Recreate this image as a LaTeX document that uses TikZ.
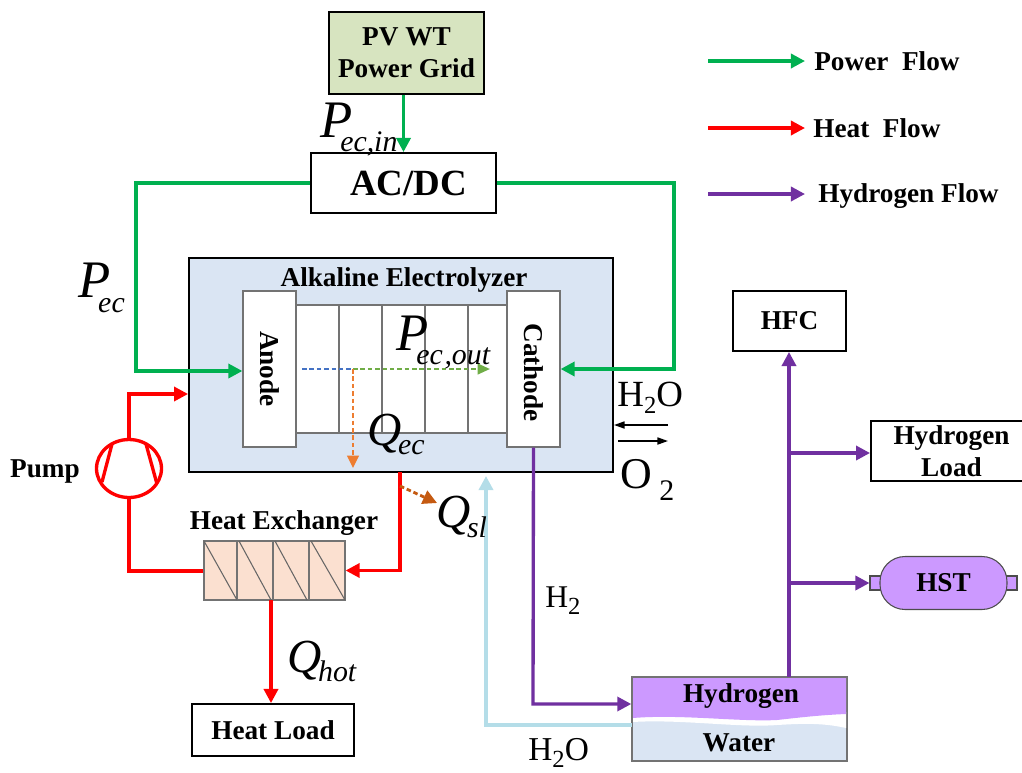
\documentclass[tikz,border=0pt]{standalone}
\usepackage{fontspec}
\setmainfont{Liberation Serif}
\usetikzlibrary{arrows.meta,shapes.geometric}
\definecolor{powergreen}{HTML}{00B050}
\definecolor{hydropurple}{HTML}{7030A0}
\definecolor{gaspurple}{HTML}{CC99FF}
\definecolor{waterblue}{HTML}{DAE5F3}
\definecolor{pipeblue}{HTML}{B4DDE8}
\definecolor{gridgreen}{HTML}{D7E4C0}
\definecolor{hxpeach}{HTML}{FBE0D0}
\definecolor{dashorange}{HTML}{ED7D31}
\definecolor{dashbrown}{HTML}{C55A11}
\definecolor{dashblue}{HTML}{4472C4}
\definecolor{dashgreen}{HTML}{70AD47}
\newcommand{\boldlab}{\fontsize{15.5}{18}\selectfont\bfseries}
\newcommand{\flowvar}[4]{{\fontsize{30}{30}\selectfont\itshape #1\kern#3\raisebox{#4}{\fontsize{17}{17}\selectfont #2}}}
\newcommand{\heatvar}[2]{{\fontsize{27}{27}\selectfont\itshape Q\kern-2pt\raisebox{#2}{\fontsize{17}{17}\selectfont #1}}}
\newcommand{\chemlab}[3]{{\fontsize{#3}{#3}\selectfont #1\raisebox{-4.5pt}{\fontsize{14}{14}\selectfont 2}#2}}
\tikzset{
  blackbox/.style={draw=black,line width=1.1pt,inner sep=0pt,align=center,font=\boldlab},
  graybox/.style={draw=black!55,line width=0.7pt,fill=white,inner sep=0pt,font=\boldlab},
  textlab/.style={inner sep=0pt,font=\boldlab},
  varlab/.style={inner sep=0pt,anchor=base west},
  flowline/.style={line width=1.9pt,-{Triangle[length=8pt,width=8pt]}},
  plainline/.style={line width=1.9pt},
  dashline/.style={line width=1.3pt,dash pattern=on 2.6pt off 1.6pt},
}
\begin{document}
\begin{tikzpicture}[x=0.02cm,y=-0.02cm]
  \useasboundingbox (0,0) rectangle (1022,772);
  % boxes
  \node[blackbox,fill=gridgreen,minimum width=3.1cm,minimum height=1.64cm] (grid) at (406.5,53) {PV WT\\Power Grid};
  \node[blackbox,minimum width=3.7cm,minimum height=1.2cm,font=\fontsize{21}{24}\selectfont\bfseries] (acdc) at (403.5,183) {\kern6pt AC/DC};
  \node[blackbox,fill=waterblue,minimum width=8.48cm,minimum height=4.28cm] (elec) at (401,365) {};
  \node[textlab] (electitle) at (404,280) {Alkaline Electrolyzer};
  \node[graybox,minimum width=4.22cm,minimum height=2.56cm] (stack) at (401.5,369) {};
  \foreach \x in {339,382,425,468}
    \draw[black!55,line width=0.7pt] (\x,305) -- (\x,433);
  \node[graybox,minimum width=1.06cm,minimum height=3.12cm] (anode) at (269.5,369) {\rotatebox{-90}{Anode}};
  \node[graybox,minimum width=1.06cm,minimum height=3.12cm] (cathode) at (533.5,369) {\rotatebox{-90}{\kern4pt Cathode}};
  \node[blackbox,minimum width=2.26cm,minimum height=1.2cm] (hfc) at (789.5,321) {HFC};
  \node[blackbox,minimum width=3.22cm,minimum height=1.2cm] (hload) at (951.5,451) {Hydrogen\\Load};
  \node[blackbox,minimum width=3.24cm,minimum height=1.04cm] (heatload) at (273,730) {Heat Load};
  % heat exchanger
  \node[graybox,fill=hxpeach,minimum width=2.82cm,minimum height=1.18cm] (hx) at (274.5,570.5) {};
  \foreach \x in {237,273,309}
    \draw[black!55,line width=0.7pt] (\x,541) -- (\x,600);
  \draw[black!60,line width=0.6pt] (204,541) -- (237,600);
  \draw[black!60,line width=0.6pt] (239,541) -- (271,600);
  \draw[black!60,line width=0.6pt] (275,541) -- (307,600);
  \draw[black!60,line width=0.6pt] (311,541) -- (345,600);
  \node[textlab] (hxtitle) at (284,523) {Heat Exchanger};
  % pump
  \node[ellipse,draw=red,line width=1.9pt,minimum width=1.3cm,minimum height=1.16cm,inner sep=0pt] (pump) at (129,468.5) {};
  \draw[plainline,red] (112,444) -- (102,482);
  \draw[plainline,red] (146,444) -- (157,484);
  \node[textlab] (pumptitle) at (45,471) {Pump};
  % tank
  \node[draw=black!55,line width=0.8pt,fill=waterblue,minimum width=4.3cm,minimum height=1.68cm,inner sep=0pt] (tank) at (739.5,719) {};
  \fill[white] (633,716) -- (846,712) -- (846,728) .. controls (820,722) and (795,724) .. (777,725) .. controls (740,728) and (680,719) .. (633,722) -- cycle;
  \fill[gaspurple] (633,678) -- (846,678) -- (846,714) .. controls (820,715) and (795,718) .. (777,720) .. controls (740,722) and (680,714) .. (633,718) -- cycle;
  \node[textlab] (hydrogen) at (741,696) {Hydrogen};
  \node[textlab] (water) at (739,743) {Water};
  % storage tank
  \node[draw=black!70,line width=0.6pt,fill=gaspurple,minimum width=0.22cm,minimum height=0.28cm,inner sep=0pt] (hstleft) at (875.5,583) {};
  \node[draw=black!70,line width=0.6pt,fill=gaspurple,minimum width=0.22cm,minimum height=0.28cm,inner sep=0pt] (hstright) at (1011.5,583) {};
  \node[draw=black!70,line width=0.6pt,fill=gaspurple,rounded corners=0.5cm,minimum width=2.54cm,minimum height=1.06cm,inner sep=0pt,font=\boldlab] (hst) at (943.5,583) {HST};
  % routing points
  \coordinate (pleft) at (136,371);
  \coordinate (pright) at (674,369);
  \coordinate (pumpin) at (128,394);
  \coordinate (pumpout) at (128,571);
  \coordinate (heatout) at (400,472);
  \coordinate (hxdrop) at (271,600);
  \coordinate (h2corner) at (533,704);
  \coordinate (riser) at (789,677);
  \coordinate (wateroff) at (632,725);
  \coordinate (waterup) at (486,476);
  \coordinate (hstbranch) at (789,583);
  \coordinate (loadbranch) at (789,453);
  \coordinate (cellstart) at (302,369);
  \coordinate (cellsplit) at (353,369);
  \coordinate (cellend) at (490,369);
  \coordinate (lossdown) at (353,468);
  \coordinate (lossstart) at (400,486);
  \coordinate (lossend) at (437,503);
  % power
  \draw[flowline,powergreen] (grid.south -| acdc.north) -- (acdc.north);
  \draw[flowline,powergreen] (acdc.west) -| (pleft) -- (anode.west |- pleft);
  \draw[flowline,powergreen] (acdc.east) -| (pright) -- (cathode.east);
  % heat
  \draw[flowline,red] (pump.north) |- (elec.west |- pumpin);
  \draw[plainline,red] (pump.south) |- (hx.west |- pumpout);
  \draw[flowline,red] (heatout) |- (hx.east);
  \draw[flowline,red] (hxdrop) -- (hxdrop |- heatload.north);
  % hydrogen
  \draw[flowline,hydropurple] (cathode.south) -- (h2corner) -- (tank.west |- h2corner);
  \draw[flowline,hydropurple] (riser) -- (hfc.south -| riser);
  \draw[flowline,hydropurple] (loadbranch) -- (hload.west |- loadbranch);
  \draw[flowline,hydropurple] (hstbranch) -- (hstleft.west);
  % water
  \draw[flowline,pipeblue] (wateroff) -| (waterup);
  \coordinate (h2oa) at (668,425);
  \coordinate (h2ob) at (614,425);
  \coordinate (o2a) at (618,441);
  \coordinate (o2b) at (668,441);
  \draw[line width=0.9pt,-{Triangle[length=6pt,width=4pt]}] (h2oa) -- (h2ob);
  \draw[line width=0.9pt,-{Triangle[length=6pt,width=4pt]}] (o2a) -- (o2b);
  % dashed flows
  \draw[dashline,dashblue] (cellstart) -- (cellsplit);
  \draw[dashline,dashgreen,-{Triangle[length=7pt,width=6pt]}] (cellsplit) -- (cellend);
  \draw[dashline,dashorange,-{Triangle[length=7pt,width=6.5pt]}] (cellsplit) -- (lossdown);
  \draw[dashline,dashbrown,line width=1.6pt,-{Triangle[length=8pt,width=8pt]}] (lossstart) -- (lossend);
  % legend
  \coordinate (lega) at (708,61);
  \coordinate (legb) at (708,128);
  \coordinate (legc) at (708,194);
  \coordinate (legaend) at (805,61);
  \coordinate (legbend) at (805,128);
  \coordinate (legcend) at (805,194);
  \node[textlab,anchor=west] (legpower) at (814,61) {Power\ \ Flow};
  \node[textlab,anchor=west] (legheat) at (813,128) {Heat\ \ Flow};
  \node[textlab,anchor=west] (leghydro) at (818,196) {Hydrogen Flow};
  \draw[flowline,powergreen] (lega) -- (legaend);
  \draw[flowline,red] (legb) -- (legbend);
  \draw[flowline,hydropurple] (legc) -- (legcend);
  % variables
  \node[varlab] (pecin) at (320,137) {\flowvar{P}{ec,in}{-7pt}{-8.5pt}};
  \node[varlab] (pec) at (78,297) {\flowvar{P}{ec}{-7pt}{-9pt}};
  \node[varlab] (pecout) at (396,350) {\flowvar{P}{ec\kern1pt,out}{-7pt}{-8pt}};
  \node[varlab] (qec) at (367,445) {\heatvar{ec}{-5.5pt}};
  \node[varlab] (qsl) at (436,527) {\heatvar{sl}{-6pt}};
  \node[varlab] (qhot) at (287,672) {\heatvar{hot}{-5.5pt}};
  \node[varlab] (hright) at (617,406) {\chemlab{H}{O}{21}};
  \node[varlab] (oright) at (620,488) {{\fontsize{25}{25}\selectfont O\,\raisebox{-7pt}{\fontsize{17}{17}\selectfont 2}}};
  \node[varlab] (hpipe) at (545,607) {\chemlab{H}{}{18}};
  \node[varlab] (hbottom) at (528,760) {\chemlab{H}{O}{19}};
\end{tikzpicture}
\end{document}
